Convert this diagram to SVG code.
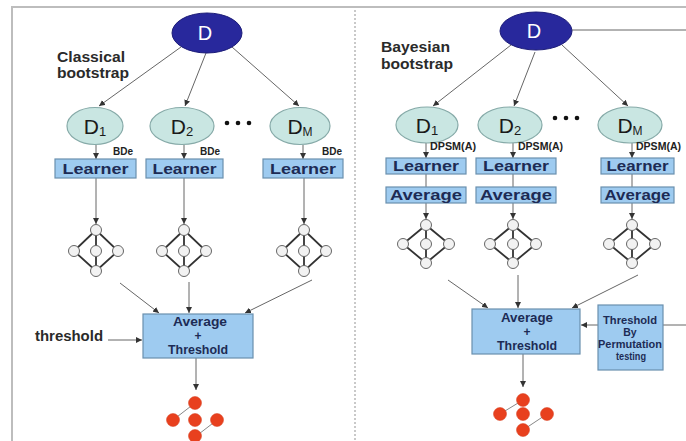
<svg xmlns="http://www.w3.org/2000/svg" width="686" height="441" viewBox="0 0 686 441">
<defs>
<marker id="ah" viewBox="0 0 10 10" refX="10" refY="5" markerWidth="6" markerHeight="6" markerUnits="userSpaceOnUse" orient="auto"><path d="M0,0 L10,5 L0,10 z" fill="#333"/></marker>
<style>
.bg{fill:#fff}
.frame{stroke:#bdbdbd;stroke-width:2;fill:none}
.sep{stroke:#b8b8b8;stroke-width:1.5;stroke-dasharray:2 2;fill:none}
.conn{stroke:#666;stroke-width:1;fill:none}
.arr{stroke:#666;stroke-width:1;fill:none;marker-end:url(#ah)}
.top{fill:#28289c;stroke:#1c1c78;stroke-width:1}
.top-t{font-family:"Liberation Sans",Arial,sans-serif;font-size:20px;fill:#fff;text-anchor:middle}
.sub{fill:#c9e6e2;stroke:#86aaa8;stroke-width:1.2}
.sub-t{font-family:"Liberation Sans",Arial,sans-serif;font-size:21px;fill:#1a1a1a;text-anchor:middle}
.box{fill:#9ecbf0;stroke:#6a90ae;stroke-width:1.2}
.box-t{font-family:"Liberation Sans",Arial,sans-serif;font-weight:bold;fill:#1d2b55;text-anchor:middle}
.lbl{font-family:"Liberation Sans",Arial,sans-serif;font-weight:bold;fill:#2a2a2a}
.small{font-family:"Liberation Sans",Arial,sans-serif;font-weight:bold;font-size:10px;fill:#222}
.gedge{stroke:#333;stroke-width:1.8;fill:none}
.gnode{fill:#f2f2f2;stroke:#666;stroke-width:1}
.redge{stroke:#888;stroke-width:1;fill:none}
.rnode{fill:#e8401e;stroke:#d53a1a;stroke-width:0.5}
.dots{fill:#111}
</style>
</defs>
<rect class="bg" x="0" y="0" width="686" height="441"/>
<path class="frame" d="M12,441 L12,7 L686,7"/>
<line class="sep" x1="355" y1="10" x2="355" y2="441"/>

<g id="connectors">
<line class="arr" x1="181" y1="47" x2="99" y2="106"/>
<line class="arr" x1="206" y1="53" x2="185" y2="106"/>
<line class="arr" x1="232" y1="47" x2="299" y2="106"/>
<line class="arr" x1="96" y1="145" x2="96" y2="159"/>
<line class="arr" x1="184" y1="145" x2="184" y2="159"/>
<line class="arr" x1="303" y1="145" x2="303" y2="159"/>
<line class="arr" x1="96" y1="178" x2="96" y2="224"/>
<line class="arr" x1="184" y1="178" x2="184" y2="224"/>
<line class="arr" x1="304" y1="178" x2="304" y2="224"/>
<line class="arr" x1="120" y1="283" x2="159" y2="313"/>
<line class="arr" x1="189" y1="282" x2="189" y2="313"/>
<line class="arr" x1="312" y1="280" x2="245" y2="313"/>
<line class="arr" x1="108" y1="340" x2="142" y2="340"/>
<line class="arr" x1="196" y1="358" x2="196" y2="390"/>
<line class="arr" x1="511" y1="45" x2="433" y2="106"/>
<line class="arr" x1="535" y1="52" x2="514" y2="106"/>
<line class="arr" x1="562" y1="45" x2="628" y2="106"/>
<line class="conn" x1="572" y1="30" x2="686" y2="30"/>
<line class="arr" x1="426" y1="143" x2="426" y2="158"/>
<line class="arr" x1="513" y1="143" x2="513" y2="158"/>
<line class="arr" x1="632" y1="143" x2="632" y2="158"/>
<line class="conn" x1="426" y1="174" x2="426" y2="187"/>
<line class="conn" x1="513" y1="174" x2="513" y2="187"/>
<line class="conn" x1="632" y1="174" x2="632" y2="187"/>
<line class="arr" x1="426" y1="203" x2="426" y2="219"/>
<line class="arr" x1="513" y1="203" x2="513" y2="219"/>
<line class="arr" x1="632" y1="203" x2="632" y2="219"/>
<line class="arr" x1="448" y1="280" x2="488" y2="308"/>
<line class="arr" x1="518" y1="275" x2="518" y2="308"/>
<line class="arr" x1="638" y1="275" x2="572" y2="308"/>
<line class="arr" x1="598" y1="325" x2="581" y2="325"/>
<line class="conn" x1="663" y1="325" x2="686" y2="325"/>
<line class="arr" x1="523" y1="354" x2="523" y2="387"/>
</g>

<g id="label-classical">
<text class="lbl" x="57" y="62" font-size="14" textLength="68" lengthAdjust="spacingAndGlyphs">Classical</text>
<text class="lbl" x="57" y="78" font-size="14" textLength="72" lengthAdjust="spacingAndGlyphs">bootstrap</text>
</g>
<g id="label-bayesian">
<text class="lbl" x="381" y="52" font-size="14" textLength="69" lengthAdjust="spacingAndGlyphs">Bayesian</text>
<text class="lbl" x="381" y="69" font-size="14" textLength="72" lengthAdjust="spacingAndGlyphs">bootstrap</text>
</g>

<g id="L-D"><ellipse class="top" cx="207" cy="33" rx="35" ry="20"/><text class="top-t" x="205" y="40">D</text></g>
<g id="L-D1"><ellipse class="sub" cx="95" cy="126" rx="28" ry="18.5"/><text class="sub-t" x="95" y="134">D<tspan font-size="13" dy="2">1</tspan></text></g>
<g id="L-D2"><ellipse class="sub" cx="182" cy="126" rx="32" ry="18.5"/><text class="sub-t" x="182" y="134">D<tspan font-size="13" dy="2">2</tspan></text></g>
<g id="L-dots"><circle class="dots" cx="227" cy="123" r="2.3"/><circle class="dots" cx="238" cy="123" r="2.3"/><circle class="dots" cx="249" cy="123" r="2.3"/></g>
<g id="L-DM"><ellipse class="sub" cx="300" cy="126" rx="30" ry="18.5"/><text class="sub-t" x="300" y="134">D<tspan font-size="12" dy="2">M</tspan></text></g>

<g id="L-BDe1"><text class="small" x="113" y="155">BDe</text></g>
<g id="L-BDe2"><text class="small" x="200" y="155">BDe</text></g>
<g id="L-BDe3"><text class="small" x="322" y="155">BDe</text></g>

<g id="L-learner1"><rect class="box" x="55" y="159" width="81" height="19"/><text class="box-t" x="95.5" y="174" font-size="15" textLength="66" lengthAdjust="spacingAndGlyphs">Learner</text></g>
<g id="L-learner2"><rect class="box" x="146" y="159" width="77" height="19"/><text class="box-t" x="184.5" y="174" font-size="15" textLength="64" lengthAdjust="spacingAndGlyphs">Learner</text></g>
<g id="L-learner3"><rect class="box" x="263" y="159" width="80" height="19"/><text class="box-t" x="303" y="174" font-size="15" textLength="66" lengthAdjust="spacingAndGlyphs">Learner</text></g>

<g id="L-graph1">
<path class="gedge" d="M96,230 L74,251 L96,271 L118,251 Z M96,230 L96,271"/>
<circle class="gnode" cx="96" cy="230" r="5.5"/><circle class="gnode" cx="74" cy="251" r="5.5"/><circle class="gnode" cx="96" cy="251" r="5.5"/><circle class="gnode" cx="118" cy="251" r="5.5"/><circle class="gnode" cx="96" cy="271" r="5.5"/>
</g>
<g id="L-graph2">
<path class="gedge" d="M184,230 L162,251 L184,271 L206,251 Z M184,230 L184,271"/>
<circle class="gnode" cx="184" cy="230" r="5.5"/><circle class="gnode" cx="162" cy="251" r="5.5"/><circle class="gnode" cx="184" cy="251" r="5.5"/><circle class="gnode" cx="206" cy="251" r="5.5"/><circle class="gnode" cx="184" cy="271" r="5.5"/>
</g>
<g id="L-graph3">
<path class="gedge" d="M304,230 L282,251 L304,271 L326,251 Z M304,230 L304,271"/>
<circle class="gnode" cx="304" cy="230" r="5.5"/><circle class="gnode" cx="282" cy="251" r="5.5"/><circle class="gnode" cx="304" cy="251" r="5.5"/><circle class="gnode" cx="326" cy="251" r="5.5"/><circle class="gnode" cx="304" cy="271" r="5.5"/>
</g>

<g id="L-threshold-label"><text class="lbl" x="35" y="341" font-size="14" textLength="68" lengthAdjust="spacingAndGlyphs">threshold</text></g>
<g id="L-avgthr"><rect class="box" x="143" y="314" width="110" height="44"/>
<text class="box-t" x="200" y="326" font-size="12" textLength="54" lengthAdjust="spacingAndGlyphs">Average</text>
<text class="box-t" x="198" y="340" font-size="12">+</text>
<text class="box-t" x="198" y="354" font-size="12" textLength="60" lengthAdjust="spacingAndGlyphs">Threshold</text></g>

<g id="L-result">
<path class="redge" d="M195,403 L173,420 M195,437 L217,420"/>
<circle class="rnode" cx="195" cy="403" r="6.5"/><circle class="rnode" cx="173" cy="420" r="6.5"/><circle class="rnode" cx="195" cy="420" r="6.5"/><circle class="rnode" cx="217" cy="420" r="6.5"/><circle class="rnode" cx="195" cy="436" r="6.5"/>
</g>

<g id="R-D"><ellipse class="top" cx="536" cy="31" rx="36" ry="19"/><text class="top-t" x="534" y="38">D</text></g>
<g id="R-D1"><ellipse class="sub" cx="427" cy="125" rx="31" ry="18"/><text class="sub-t" x="427" y="133">D<tspan font-size="13" dy="2">1</tspan></text></g>
<g id="R-D2"><ellipse class="sub" cx="510" cy="125" rx="32" ry="18"/><text class="sub-t" x="510" y="133">D<tspan font-size="13" dy="2">2</tspan></text></g>
<g id="R-dots"><circle class="dots" cx="555" cy="118" r="2.3"/><circle class="dots" cx="566" cy="118" r="2.3"/><circle class="dots" cx="577" cy="118" r="2.3"/></g>
<g id="R-DM"><ellipse class="sub" cx="630" cy="125" rx="32" ry="18"/><text class="sub-t" x="630" y="133">D<tspan font-size="12" dy="2">M</tspan></text></g>

<g id="R-dpsm1"><text class="small" x="430" y="150" textLength="46" lengthAdjust="spacingAndGlyphs">DPSM(A)</text></g>
<g id="R-dpsm2"><text class="small" x="518" y="150" textLength="45" lengthAdjust="spacingAndGlyphs">DPSM(A)</text></g>
<g id="R-dpsm3"><text class="small" x="636" y="150" textLength="45" lengthAdjust="spacingAndGlyphs">DPSM(A)</text></g>

<g id="R-learner1"><rect class="box" x="386" y="158" width="80" height="16"/><text class="box-t" x="426" y="171" font-size="15" textLength="66" lengthAdjust="spacingAndGlyphs">Learner</text></g>
<g id="R-learner2"><rect class="box" x="476" y="158" width="80" height="16"/><text class="box-t" x="516" y="171" font-size="15" textLength="66" lengthAdjust="spacingAndGlyphs">Learner</text></g>
<g id="R-learner3"><rect class="box" x="601" y="158" width="73" height="16"/><text class="box-t" x="637.5" y="171" font-size="15" textLength="62" lengthAdjust="spacingAndGlyphs">Learner</text></g>
<g id="R-average1"><rect class="box" x="386" y="187" width="80" height="16"/><text class="box-t" x="426" y="200" font-size="15" textLength="72" lengthAdjust="spacingAndGlyphs">Average</text></g>
<g id="R-average2"><rect class="box" x="476" y="187" width="80" height="16"/><text class="box-t" x="516" y="200" font-size="15" textLength="72" lengthAdjust="spacingAndGlyphs">Average</text></g>
<g id="R-average3"><rect class="box" x="601" y="187" width="73" height="16"/><text class="box-t" x="637.5" y="200" font-size="15" textLength="66" lengthAdjust="spacingAndGlyphs">Average</text></g>

<g id="R-graph1">
<path class="gedge" d="M426,225 L403,244 L426,263 L449,244 Z M426,225 L426,263"/>
<circle class="gnode" cx="426" cy="225" r="5.5"/><circle class="gnode" cx="403" cy="244" r="5.5"/><circle class="gnode" cx="426" cy="244" r="5.5"/><circle class="gnode" cx="449" cy="244" r="5.5"/><circle class="gnode" cx="426" cy="263" r="5.5"/>
</g>
<g id="R-graph2">
<path class="gedge" d="M513,225 L490,244 L513,263 L536,244 Z M513,225 L513,263"/>
<circle class="gnode" cx="513" cy="225" r="5.5"/><circle class="gnode" cx="490" cy="244" r="5.5"/><circle class="gnode" cx="513" cy="244" r="5.5"/><circle class="gnode" cx="536" cy="244" r="5.5"/><circle class="gnode" cx="513" cy="263" r="5.5"/>
</g>
<g id="R-graph3">
<path class="gedge" d="M632,225 L609,244 L632,263 L655,244 Z M632,225 L632,263"/>
<circle class="gnode" cx="632" cy="225" r="5.5"/><circle class="gnode" cx="609" cy="244" r="5.5"/><circle class="gnode" cx="632" cy="244" r="5.5"/><circle class="gnode" cx="655" cy="244" r="5.5"/><circle class="gnode" cx="632" cy="263" r="5.5"/>
</g>

<g id="R-avgthr"><rect class="box" x="472" y="309" width="108" height="45"/>
<text class="box-t" x="527" y="322" font-size="13" textLength="52" lengthAdjust="spacingAndGlyphs">Average</text>
<text class="box-t" x="527" y="336" font-size="12">+</text>
<text class="box-t" x="527" y="350" font-size="13" textLength="60" lengthAdjust="spacingAndGlyphs">Threshold</text></g>

<g id="R-perm"><rect class="box" x="598" y="305" width="65" height="65"/>
<text class="box-t" x="630" y="324" font-size="10.5" textLength="54" lengthAdjust="spacingAndGlyphs">Threshold</text>
<text class="box-t" x="630" y="336" font-size="10.5">By</text>
<text class="box-t" x="630" y="348" font-size="10.5" textLength="64" lengthAdjust="spacingAndGlyphs">Permutation</text>
<text class="box-t" x="631" y="360" font-size="10.5" textLength="30" lengthAdjust="spacingAndGlyphs">testing</text></g>

<g id="R-result">
<path class="redge" d="M523,400 L500,414 M523,430 L547,414"/>
<circle class="rnode" cx="523" cy="400" r="6.5"/><circle class="rnode" cx="500" cy="414" r="6.5"/><circle class="rnode" cx="523" cy="414" r="6.5"/><circle class="rnode" cx="547" cy="414" r="6.5"/><circle class="rnode" cx="523" cy="430" r="6.5"/>
</g>
</svg>
